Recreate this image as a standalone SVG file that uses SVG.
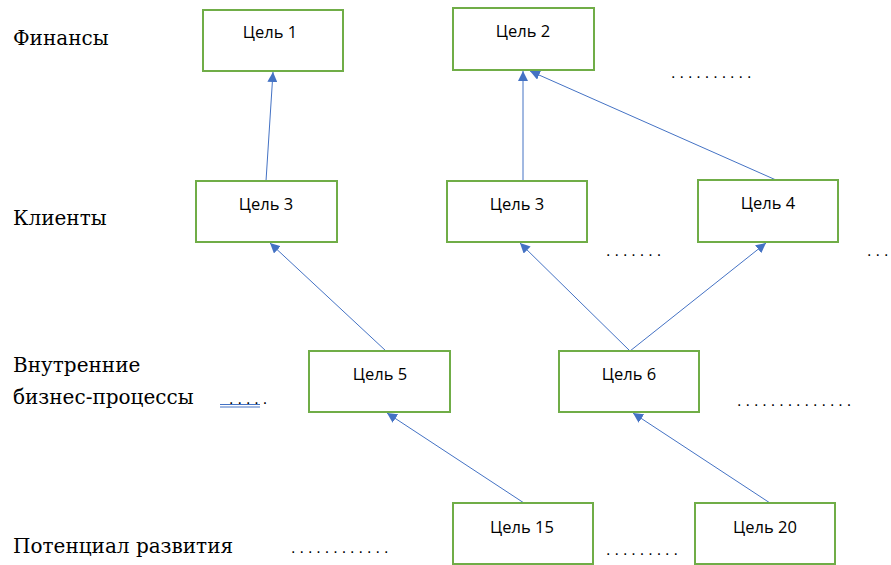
<svg xmlns="http://www.w3.org/2000/svg" width="891" height="565" viewBox="0 0 891 565">
<style>
.box{fill:#fff;stroke:#70AD47;stroke-width:2}
.bt{font-family:"Open Sans","Noto Sans",sans-serif;font-size:16.5px;fill:#000;text-anchor:middle}
.lbl{font-family:"DejaVu Serif","Liberation Serif",serif;font-size:20px;fill:#000}
.dots{font-family:"Liberation Sans",sans-serif;font-size:16px;fill:#000;letter-spacing:4px}
.con{stroke:#4472C4;stroke-width:1;fill:none;marker-end:url(#ah)}
</style>
<defs>
<marker id="ah" viewBox="0 0 10 10" refX="10" refY="5" markerWidth="10" markerHeight="10" markerUnits="userSpaceOnUse" orient="auto">
<path d="M0,0 L10,5 L0,10 z" fill="#4472C4"/>
</marker>
</defs>
<rect width="891" height="565" fill="#fff"/>
<g id="labels">
<text class="lbl" x="13" y="45">Финансы</text>
<text class="lbl" x="13" y="225">Клиенты</text>
<text class="lbl" x="13" y="372">Внутренние</text>
<text class="lbl" x="13" y="404">бизнес-процессы</text>
<text class="lbl" x="13" y="553">Потенциал развития</text>
</g>
<g id="dots">
<text class="dots" x="671" y="78">..........</text>
<text class="dots" x="606" y="256">.......</text>
<text class="dots" x="867" y="256">...</text>
<text class="dots" x="229" y="404">.....</text>
<line x1="220" y1="404.5" x2="260" y2="404.5" stroke="#4472C4" stroke-width="1"/>
<line x1="220" y1="407" x2="260" y2="407" stroke="#4472C4" stroke-width="1"/>
<text class="dots" x="737" y="406">..............</text>
<text class="dots" x="291" y="553">............</text>
<text class="dots" x="606" y="555">.........</text>
</g>
<g id="connectors">
<line class="con" x1="266" y1="181" x2="273" y2="72"/>
<line class="con" x1="523" y1="181" x2="523" y2="71"/>
<line class="con" x1="776" y1="180" x2="530" y2="71"/>
<line class="con" x1="386" y1="351" x2="270" y2="243"/>
<line class="con" x1="630" y1="351" x2="520" y2="243"/>
<line class="con" x1="630" y1="351" x2="766" y2="243"/>
<line class="con" x1="524" y1="503" x2="387" y2="413"/>
<line class="con" x1="770" y1="503" x2="633" y2="413"/>
</g>
<g id="n1"><rect class="box" x="203" y="10" width="140" height="61"/><text class="bt" x="270" y="38">Цель 1</text></g>
<g id="n2"><rect class="box" x="453" y="8" width="141" height="62"/><text class="bt" x="523" y="37">Цель 2</text></g>
<g id="n3a"><rect class="box" x="196" y="181" width="141" height="61"/><text class="bt" x="266" y="210">Цель 3</text></g>
<g id="n3b"><rect class="box" x="447" y="181" width="140" height="61"/><text class="bt" x="517" y="210">Цель 3</text></g>
<g id="n4"><rect class="box" x="698" y="180" width="140" height="62"/><text class="bt" x="768" y="209">Цель 4</text></g>
<g id="n5"><rect class="box" x="309" y="351" width="141" height="61"/><text class="bt" x="380" y="380">Цель 5</text></g>
<g id="n6"><rect class="box" x="559" y="351" width="140" height="61"/><text class="bt" x="629" y="380">Цель 6</text></g>
<g id="n15"><rect class="box" x="453" y="503" width="140" height="61"/><text class="bt" x="522" y="533">Цель 15</text></g>
<g id="n20"><rect class="box" x="695" y="503" width="140" height="61"/><text class="bt" x="765" y="533">Цель 20</text></g>
</svg>
